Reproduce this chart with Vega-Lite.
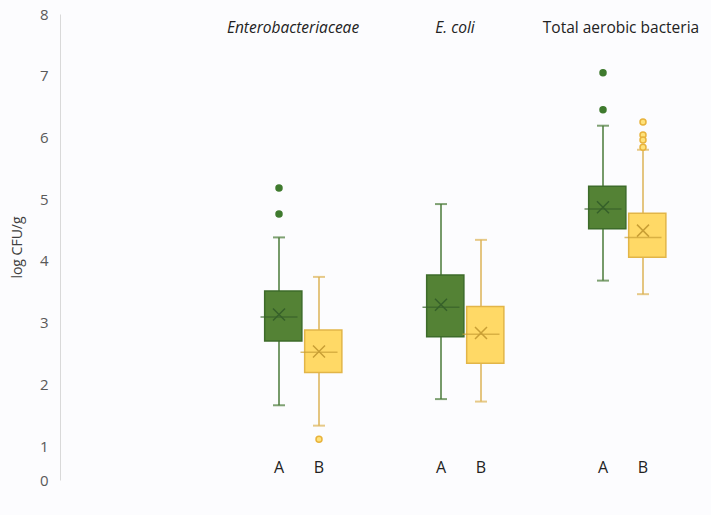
{
  "$schema": "https://vega.github.io/schema/vega-lite/v6.json",
  "width": 651,
  "height": 466,
  "autosize": {"type": "none"},
  "padding": {"left": 60, "top": 14, "right": 0, "bottom": 35},
  "background": "#fcfcfe",
  "config": {"view": {"stroke": null}, "font": "Open Sans"},
  "datasets": {
    "boxes": [
      {"group": "Enterobacteriaceae", "sample": "A", "lower": 1.66, "q1": 2.70, "median": 3.09, "q3": 3.51, "upper": 4.38, "mean": 3.13},
      {"group": "Enterobacteriaceae", "sample": "B", "lower": 1.33, "q1": 2.19, "median": 2.52, "q3": 2.88, "upper": 3.74, "mean": 2.53},
      {"group": "E. coli", "sample": "A", "lower": 1.76, "q1": 2.77, "median": 3.25, "q3": 3.77, "upper": 4.92, "mean": 3.29},
      {"group": "E. coli", "sample": "B", "lower": 1.72, "q1": 2.34, "median": 2.81, "q3": 3.26, "upper": 4.34, "mean": 2.83},
      {"group": "Total aerobic bacteria", "sample": "A", "lower": 3.68, "q1": 4.52, "median": 4.84, "q3": 5.21, "upper": 6.19, "mean": 4.87},
      {"group": "Total aerobic bacteria", "sample": "B", "lower": 3.46, "q1": 4.06, "median": 4.38, "q3": 4.77, "upper": 5.80, "mean": 4.49}
    ],
    "outliers": [
      {"group": "Enterobacteriaceae", "sample": "A", "value": 5.18},
      {"group": "Enterobacteriaceae", "sample": "A", "value": 4.76},
      {"group": "Enterobacteriaceae", "sample": "B", "value": 1.11},
      {"group": "Total aerobic bacteria", "sample": "A", "value": 7.05},
      {"group": "Total aerobic bacteria", "sample": "A", "value": 6.45},
      {"group": "Total aerobic bacteria", "sample": "B", "value": 6.25},
      {"group": "Total aerobic bacteria", "sample": "B", "value": 6.04},
      {"group": "Total aerobic bacteria", "sample": "B", "value": 5.96},
      {"group": "Total aerobic bacteria", "sample": "B", "value": 5.84}
    ],
    "titles": [
      {"group": "Enterobacteriaceae", "italic": true},
      {"group": "E. coli", "italic": true},
      {"group": "Total aerobic bacteria", "italic": false}
    ]
  },
  "encoding": {
    "x": {
      "field": "group", "type": "nominal",
      "scale": {"domain": ["Enterobacteriaceae", "E. coli", "Total aerobic bacteria"], "range": [158, 644], "paddingInner": 0, "paddingOuter": 0},
      "axis": null
    }
  },
  "layer": [
    {
      "data": {"name": "boxes"},
      "mark": {"type": "rule", "strokeWidth": 1.5},
      "encoding": {
        "xOffset": {"field": "sample", "type": "nominal", "scale": {"domain": ["A", "B"], "range": [41, 121]}},
        "y": {
          "field": "lower", "type": "quantitative",
          "scale": {"domain": [0, 1, 8], "range": [466, 432, 0]},
          "axis": {
            "values": [0, 1, 2, 3, 4, 5, 6, 7, 8],
            "format": "d",
            "grid": false, "ticks": false,
            "domainColor": "#d9d9d9", "domainWidth": 1,
            "labelColor": "#595959", "labelFontSize": 15, "labelPadding": 12,
            "labelFont": "Open Sans",
            "title": "log CFU/g", "titleFontSize": 14, "titleFontWeight": "normal",
            "titleColor": "#404040", "titlePadding": 15, "titleFont": "Open Sans"
          }
        },
        "y2": {"field": "upper"},
        "color": {"field": "sample", "type": "nominal", "scale": {"domain": ["A", "B"], "range": ["#4a7a38", "#ddb356"]}, "legend": null}
      }
    },
    {
      "data": {"name": "boxes"},
      "mark": {"type": "tick", "size": 12, "thickness": 2},
      "encoding": {
        "xOffset": {"field": "sample", "type": "nominal"},
        "y": {"field": "lower", "type": "quantitative"},
        "color": {"field": "sample", "type": "nominal", "legend": null}
      }
    },
    {
      "data": {"name": "boxes"},
      "mark": {"type": "tick", "size": 12, "thickness": 2},
      "encoding": {
        "xOffset": {"field": "sample", "type": "nominal"},
        "y": {"field": "upper", "type": "quantitative"},
        "color": {"field": "sample", "type": "nominal", "legend": null}
      }
    },
    {
      "data": {"name": "boxes"},
      "mark": {"type": "bar", "width": {"band": 0.93}, "strokeWidth": 1.5},
      "encoding": {
        "xOffset": {"field": "sample", "type": "nominal"},
        "y": {"field": "q1", "type": "quantitative"},
        "y2": {"field": "q3"},
        "fill": {"field": "sample", "type": "nominal", "scale": {"domain": ["A", "B"], "range": ["#548235", "#ffd966"]}, "legend": null},
        "stroke": {"field": "sample", "type": "nominal", "scale": {"domain": ["A", "B"], "range": ["#3d6b2a", "#e2b548"]}, "legend": null}
      }
    },
    {
      "data": {"name": "boxes"},
      "mark": {"type": "tick", "size": 37, "thickness": 1.5},
      "encoding": {
        "xOffset": {"field": "sample", "type": "nominal"},
        "y": {"field": "median", "type": "quantitative"},
        "color": {"value": null},
        "fill": {"field": "sample", "type": "nominal", "scale": {"domain": ["A", "B"], "range": ["#36602a", "#c99f35"]}, "legend": null}
      }
    },
    {
      "data": {"name": "boxes"},
      "mark": {"type": "point", "shape": "M -1 -1 L 1 1 M -1 1 L 1 -1", "size": 144, "filled": false, "strokeWidth": 1.5, "opacity": 1},
      "encoding": {
        "xOffset": {"field": "sample", "type": "nominal"},
        "y": {"field": "mean", "type": "quantitative"},
        "color": {"value": null},
        "stroke": {"field": "sample", "type": "nominal", "scale": {"domain": ["A", "B"], "range": ["#36602a", "#c99f35"]}, "legend": null}
      }
    },
    {
      "data": {"name": "outliers"},
      "mark": {"type": "point", "shape": "circle", "size": 36, "strokeWidth": 1.5, "opacity": 1, "filled": true},
      "encoding": {
        "xOffset": {"field": "sample", "type": "nominal", "scale": {"domain": ["A", "B"], "range": [41, 121]}},
        "y": {"field": "value", "type": "quantitative"},
        "fill": {"field": "sample", "type": "nominal", "scale": {"domain": ["A", "B"], "range": ["#3f7a2e", "#ffe27a"]}, "legend": null},
        "stroke": {"field": "sample", "type": "nominal", "scale": {"domain": ["A", "B"], "range": ["#3f7a2e", "#e8b33c"]}, "legend": null}
      }
    },
    {
      "data": {"name": "boxes"},
      "mark": {"type": "text", "fontSize": 16, "color": "#222222", "font": "Open Sans", "baseline": "middle"},
      "encoding": {
        "xOffset": {"field": "sample", "type": "nominal"},
        "y": {"datum": 0.35, "type": "quantitative"},
        "text": {"field": "sample"}
      }
    },
    {
      "data": {"name": "titles"},
      "transform": [{"filter": "datum.italic"}],
      "mark": {"type": "text", "fontSize": 15.5, "fontStyle": "italic", "color": "#222222", "font": "Open Sans", "baseline": "middle", "dx": -6},
      "encoding": {
        "y": {"datum": 7.77, "type": "quantitative"},
        "text": {"field": "group"}
      }
    },
    {
      "data": {"name": "titles"},
      "transform": [{"filter": "!datum.italic"}],
      "mark": {"type": "text", "fontSize": 15.5, "color": "#222222", "font": "Open Sans", "baseline": "middle", "dx": -2},
      "encoding": {
        "y": {"datum": 7.77, "type": "quantitative"},
        "text": {"field": "group"}
      }
    }
  ],
  "resolve": {"scale": {"fill": "independent", "stroke": "independent"}}
}
